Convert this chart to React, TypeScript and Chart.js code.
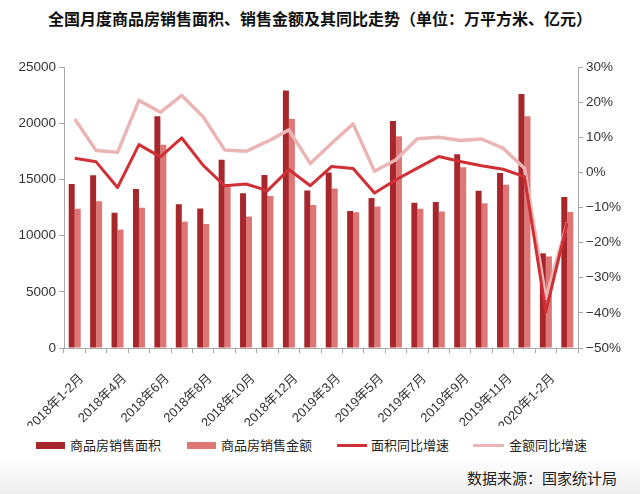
import React, { useEffect, useRef } from "react";
import { Chart, registerables } from "chart.js";

Chart.register(...registerables);

const categories = [
  "2018年1-2月", "2018年3月", "2018年4月", "2018年5月", "2018年6月", "2018年7月",
  "2018年8月", "2018年9月", "2018年10月", "2018年11月", "2018年12月",
  "2019年1-2月", "2019年3月", "2019年4月", "2019年5月", "2019年6月", "2019年7月",
  "2019年8月", "2019年9月", "2019年10月", "2019年11月", "2019年12月",
  "2020年1-2月", "2020年3月",
];

// 商品房销售面积（万平方米）
const salesArea = [
  14580, 15360, 12040, 14150, 20610, 12780, 12420, 16750, 13760, 15390, 22920,
  14020, 15620, 12190, 13350, 20200, 12930, 12990, 17230, 14000, 15570, 22600,
  8420, 13430,
];

// 商品房销售金额（亿元）
const salesAmount = [
  12390, 13050, 10530, 12480, 18090, 11240, 11030, 14600, 11710, 13520, 20370,
  12720, 14200, 12070, 12600, 18830, 12390, 12150, 16070, 12870, 14530, 20610,
  8150, 12100,
];

// 面积同比增速（%）
const areaYoY = [
  4.0, 3.0, -4.3, 7.9, 4.4, 9.8, 2.0, -3.8, -3.3, -5.2, 0.8, -3.8, 1.7, 1.1,
  -5.9, -2.1, 1.2, 4.5, 3.1, 1.9, 0.9, -1.2, -39.6, -14.4,
];

// 金额同比增速（%）
const amountYoY = [
  15.2, 6.2, 5.7, 20.5, 17.1, 21.9, 15.8, 6.4, 6.0, 8.8, 12.1, 2.5, 8.3, 13.8,
  0.3, 3.6, 9.6, 10.0, 9.1, 9.5, 6.9, 1.2, -35.8, -14.3,
];

const leftTicks = { min: 0, max: 25000, step: 5000 };
const rightTicks = { min: -50, max: 30, step: 10 };

const DARK_BAR = "#a8272c";
const LIGHT_BAR = "#de7676";
const DARK_LINE = "#cf3035";
const LIGHT_LINE = "#ebb5b5";
const AXIS = "#a8a8a8";
const TEXT = "#333333";
const FONT = '"Liberation Sans", "Noto Sans CJK SC", sans-serif';
const CJK = '"Noto Sans CJK SC", "Liberation Sans", sans-serif';

export default function App() {
  const ref = useRef<HTMLCanvasElement | null>(null);

  useEffect(() => {
    if (!ref.current) return;
    const chart = new Chart(ref.current, {
      type: "bar",
      data: {
        labels: categories,
        datasets: [
          {
            type: "line",
            label: "面积同比增速",
            data: areaYoY,
            yAxisID: "y1",
            borderColor: DARK_LINE,
            backgroundColor: DARK_LINE,
            borderWidth: 3,
            pointRadius: 0,
            tension: 0,
            borderJoinStyle: "round",
            order: 1,
          },
          {
            type: "line",
            label: "金额同比增速",
            data: amountYoY,
            yAxisID: "y1",
            borderColor: LIGHT_LINE,
            backgroundColor: LIGHT_LINE,
            borderWidth: 3.5,
            pointRadius: 0,
            tension: 0,
            borderJoinStyle: "round",
            order: 2,
          },
          {
            type: "bar",
            label: "商品房销售面积",
            data: salesArea,
            yAxisID: "y",
            backgroundColor: DARK_BAR,
            categoryPercentage: 0.56,
            barPercentage: 1.0,
            order: 3,
          },
          {
            type: "bar",
            label: "商品房销售金额",
            data: salesAmount,
            yAxisID: "y",
            backgroundColor: LIGHT_BAR,
            categoryPercentage: 0.56,
            barPercentage: 1.0,
            order: 4,
          },
        ],
      },
      options: {
        responsive: false,
        animation: false,
        layout: { padding: { top: 67, left: 0, right: 12, bottom: 4 } },
        plugins: {
          legend: { display: false },
          tooltip: { enabled: false },
          title: { display: false },
        },
        scales: {
          x: {
            offset: true,
            grid: {
              display: true,
              drawOnChartArea: false,
              drawTicks: true,
              tickLength: 5,
              color: AXIS,
              offset: true,
            },
            border: { display: true, color: AXIS, width: 1 },
            ticks: {
              autoSkip: false,
              minRotation: 45,
              maxRotation: 45,
              padding: 18,
              labelOffset: 7,
              color: TEXT,
              font: { family: FONT, size: 13 },
              callback: (_v: any, i: number) => (i % 2 === 0 ? categories[i] : ""),
            },
            afterFit: (s: any) => {
              s.height = 78;
            },
          },
          y: {
            position: "left",
            min: leftTicks.min,
            max: leftTicks.max,
            grid: {
              display: true,
              drawOnChartArea: false,
              drawTicks: true,
              tickLength: 5,
              color: AXIS,
            },
            border: { display: true, color: AXIS, width: 1 },
            ticks: {
              stepSize: leftTicks.step,
              padding: 3,
              color: TEXT,
              font: { family: FONT, size: 13.5 },
              callback: (v: any) => String(v),
            },
            afterFit: (s: any) => {
              s.width = 64;
            },
          },
          y1: {
            position: "right",
            min: rightTicks.min,
            max: rightTicks.max,
            grid: {
              display: true,
              drawOnChartArea: false,
              drawTicks: true,
              tickLength: 5,
              color: AXIS,
            },
            border: { display: true, color: AXIS, width: 1 },
            ticks: {
              stepSize: rightTicks.step,
              padding: 3,
              color: TEXT,
              font: { family: FONT, size: 13.5 },
              callback: (v: any) =>
                (Number(v) < 0 ? "\u2212" + Math.abs(Number(v)) : String(v)) + "%",
            },
            afterFit: (s: any) => {
              s.width = 50;
            },
          },
        },
      },
    });
    return () => chart.destroy();
  }, []);

  const legendText: React.CSSProperties = {
    position: "absolute",
    top: 436,
    fontFamily: CJK,
    fontSize: 13,
    lineHeight: "18px",
    color: "#222",
    whiteSpace: "nowrap",
  };

  return (
    <div
      style={{
        position: "fixed",
        left: 0,
        top: 0,
        width: 640,
        height: 494,
        background: "#fff",
        overflow: "hidden",
      }}
    >
      <div
        style={{
          position: "absolute",
          left: 0,
          top: 458,
          width: 640,
          height: 36,
          background: "linear-gradient(#ffffff, #eeeeee)",
        }}
      />
      <div
        style={{
          position: "absolute",
          top: 7,
          left: 0,
          width: 640,
          textAlign: "center",
          fontFamily: CJK,
          fontWeight: 700,
          fontSize: 16,
          lineHeight: "22px",
          color: "#111",
          whiteSpace: "nowrap",
        }}
      >
        全国月度商品房销售面积、销售金额及其同比走势（单位：万平方米、亿元）
      </div>
      <canvas
        ref={ref}
        width={640}
        height={430}
        style={{ position: "absolute", left: 0, top: 0, width: 640, height: 430, display: "block" }}
      />
      <div style={{ position: "absolute", left: 36, top: 442, width: 29, height: 7, background: DARK_BAR }} />
      <div style={{ ...legendText, left: 70 }}>商品房销售面积</div>
      <div style={{ position: "absolute", left: 187, top: 442, width: 29, height: 7, background: LIGHT_BAR }} />
      <div style={{ ...legendText, left: 221 }}>商品房销售金额</div>
      <div style={{ position: "absolute", left: 337, top: 444, width: 30, height: 3, background: DARK_LINE }} />
      <div style={{ ...legendText, left: 371 }}>面积同比增速</div>
      <div style={{ position: "absolute", left: 473, top: 443.5, width: 31, height: 3.5, background: LIGHT_LINE }} />
      <div style={{ ...legendText, left: 509 }}>金额同比增速</div>
      <div
        style={{
          position: "absolute",
          right: 23,
          top: 467,
          fontFamily: CJK,
          fontSize: 15,
          lineHeight: "22px",
          color: "#222",
          whiteSpace: "nowrap",
        }}
      >
        数据来源：国家统计局
      </div>
    </div>
  );
}
